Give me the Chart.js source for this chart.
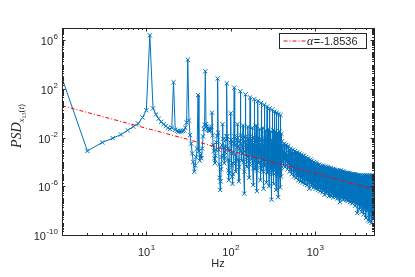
<!DOCTYPE html>
<html>
<head>
<meta charset="utf-8">
<script src="https://cdn.jsdelivr.net/npm/chart.js@4.4.1/dist/chart.umd.min.js"></script>
<style>
  html, body { margin: 0; padding: 0; background: #fff; }
  #wrap { position: relative; width: 415px; height: 277px; }
</style>
</head>
<body>
<div id="wrap"><canvas id="psd-chart" width="415" height="277"></canvas></div>
<script>
// PSD values are kept as log10 exponents
const lowHz = [
    1, 2, 3, 4, 5, 6, 7, 8, 9, 10,
    11, 12, 13, 14, 15, 16, 17, 18, 19, 20,
    21, 22, 23, 24, 25, 26, 27, 28, 29, 30,
    31, 32, 33, 34, 35, 36, 37, 38, 39, 40,
    41, 42, 43, 44, 45, 46, 47, 48, 49, 50,
    51, 52, 53, 54, 55, 56, 57, 58, 59, 60,
    61, 62, 63, 64, 65, 66, 67, 68, 69, 70,
    71, 72, 73, 74, 75, 76, 77, 78, 79, 80,
    81, 82, 83, 84, 85, 86, 87, 88, 89, 90,
    91, 92, 93, 94, 95, 96, 97, 98, 99, 100,
    101, 102, 103, 104, 105, 106, 107, 108, 109, 110
];
const lowLog = [
    2.9, -3.1, -2.4, -2.05, -1.75, -1.4, -1.1, -0.85, -0.35, 0.25,
    6.4, 0.4, -0.1, -0.45, -0.7, -0.9, -1.05, -1.2, -1.3, -1.2,
    2.55, -1.35, -1.45, -1.5, -1.5, -1.5, -1.45, -1.4, -1.2, -0.75,
    4.4, -0.6, -1.8, -2.5, -3.3, -4.0, -4.8, -4.3, -3.6, -2.9,
    1.5, -3.1, -3.9, -3.4, -3.7, -2.9, -1.9, -1.3, -0.95, 3.45,
    -0.9, -1.1, -1.25, -1.35, -1.4, -1.45, -1.4, -1.3, -1.1, 0.05,
    -1.8, -2.6, -3.1, -3.7, -4.1, -3.5, -3.0, -2.4, -1.9, 2.85,
    -1.6, -3.0, -4.2, -5.3, -6.3, -5.6, -4.6, -3.6, -2.6, -0.9,
    -2.1, -2.8, -3.5, -4.1, -3.7, -3.2, -2.7, -2.2, -1.9, 2.45,
    -1.9, -2.9, -3.8, -4.7, -5.5, -4.9, -3.9, -3.0, -2.4, 0.0,
    -2.2, -3.3, -4.3, -5.2, -5.8, -5.0, -4.1, -3.2, -2.5, 2.1
];

// harmonic comb, 110-400 Hz (one row per 10 Hz cell, peak last)
const combHz = [
    111, 112, 113, 115, 116, 118, 119, 120,
    121, 122, 123, 125, 126, 128, 129, 130,
    131, 132, 133, 135, 136, 138, 139, 140,
    141, 142, 143, 145, 146, 148, 149, 150,
    151, 152, 153, 155, 156, 158, 159, 160,
    161, 162, 163, 165, 166, 168, 169, 170,
    171, 172, 173, 175, 176, 178, 179, 180,
    181, 182, 183, 185, 186, 188, 189, 190,
    191, 192, 193, 195, 196, 198, 199, 200,
    201, 202, 203, 205, 206, 208, 209, 210,
    211, 212, 213, 215, 216, 218, 219, 220,
    221, 222, 223, 225, 226, 228, 229, 230,
    231, 232, 233, 235, 236, 238, 239, 240,
    241, 242, 243, 245, 246, 248, 249, 250,
    251, 252, 253, 255, 256, 258, 259, 260,
    261, 262, 263, 265, 266, 268, 269, 270,
    271, 272, 273, 275, 276, 278, 279, 280,
    281, 282, 283, 285, 286, 288, 289, 290,
    291, 292, 293, 295, 296, 298, 299, 300,
    301, 302, 303, 305, 306, 308, 309, 310,
    311, 312, 313, 315, 316, 318, 319, 320,
    321, 322, 323, 325, 326, 328, 329, 330,
    331, 332, 333, 335, 336, 338, 339, 340,
    341, 342, 343, 345, 346, 348, 349, 350,
    351, 352, 353, 355, 356, 358, 359, 360,
    361, 362, 363, 365, 366, 368, 369, 370,
    371, 372, 373, 375, 376, 378, 379, 380,
    381, 382, 383, 385, 386, 388, 389, 390,
    391, 392, 393, 395, 396, 398, 399, 400
];
const combLog = [
    -1.9, -2.6, -3.4, -4.8, -3.9, -2.8, -2.2, -0.9,
    -2.0, -2.7, -3.8, -5.6, -4.4, -2.9, -2.3, 1.8,
    -1.8, -2.5, -3.1, -3.9, -3.3, -2.7, -2.1, -1.0,
    -2.0, -2.8, -4.0, -6.6, -4.8, -3.1, -2.4, 1.55,
    -1.9, -2.5, -3.3, -4.4, -3.6, -2.8, -2.2, -1.1,
    -2.1, -2.9, -3.9, -5.3, -4.2, -3.0, -2.4, 1.3,
    -1.9, -2.6, -3.2, -3.8, -3.4, -2.8, -2.2, -1.2,
    -2.1, -2.9, -4.1, -5.9, -4.5, -3.1, -2.5, 1.15,
    -2.0, -2.7, -3.5, -4.6, -3.8, -2.9, -2.3, -1.0,
    -2.2, -3.0, -4.2, -6.4, -4.7, -3.2, -2.6, 1.0,
    -2.0, -2.8, -3.4, -4.1, -3.6, -3.0, -2.4, -1.3,
    -2.2, -3.1, -4.0, -5.5, -4.3, -3.3, -2.6, 0.85,
    -2.1, -2.9, -3.6, -4.7, -3.9, -3.1, -2.5, -1.2,
    -2.3, -3.2, -4.3, -6.2, -4.8, -3.4, -2.7, 0.7,
    -2.1, -3.0, -3.6, -4.3, -3.8, -3.2, -2.6, -1.4,
    -2.3, -3.3, -4.2, -5.7, -4.5, -3.5, -2.8, 0.55,
    -2.2, -3.1, -3.8, -4.9, -4.0, -3.3, -2.7, -1.3,
    -2.4, -3.4, -4.4, -6.0, -4.7, -3.6, -2.9, 0.4,
    -2.3, -3.2, -3.8, -4.5, -3.9, -3.4, -2.8, -1.5,
    -2.5, -3.5, -4.6, -7.1, -5.0, -3.7, -3.0, 0.3,
    -2.3, -3.3, -3.9, -4.8, -4.1, -3.5, -2.9, -1.4,
    -2.5, -3.6, -4.4, -5.8, -4.6, -3.8, -3.1, 0.15,
    -2.4, -3.4, -3.9, -4.4, -4.0, -3.6, -3.0, -1.5,
    -2.6, -3.7, -4.6, -6.3, -4.9, -3.9, -3.2, 0.05,
    -2.5, -3.5, -4.1, -5.0, -4.3, -3.7, -3.1, -1.6,
    -2.7, -3.8, -4.7, -6.9, -5.1, -4.0, -3.3, -0.05,
    -2.6, -3.6, -4.1, -4.6, -4.2, -3.8, -3.2, -1.5,
    -2.7, -3.9, -4.6, -6.1, -4.9, -4.1, -3.4, -0.15,
    -2.6, -3.7, -4.3, -5.2, -4.5, -3.9, -3.3, -1.7
];

// broadband part above 400 Hz
const bandHz = [
    405, 409, 413, 417, 421, 425, 430, 434, 438, 442, 447, 451, 456, 460, 465, 470, 475, 479, 484, 489,
    494, 499, 504, 509, 514, 519, 524, 529, 535, 540, 546, 551, 557, 562, 568, 573, 579, 585, 591, 597,
    603, 609, 615, 621, 627, 633, 640, 646, 653, 659, 666, 672, 679, 686, 693, 700, 707, 714, 721, 728,
    735, 742, 750, 757, 765, 773, 781, 788, 796, 804, 812, 820, 829, 837, 845, 853, 862, 871, 880, 888,
    897, 906, 915, 924, 934, 943, 953, 962, 972, 981, 991, 1001, 1011, 1021, 1031, 1041, 1052, 1062, 1073, 1084,
    1095, 1106, 1117, 1128, 1139, 1150, 1162, 1173, 1185, 1197, 1209, 1221, 1233, 1245, 1258, 1270, 1283, 1296, 1309, 1322,
    1335, 1348, 1362, 1375, 1389, 1403, 1417, 1431, 1446, 1460, 1475, 1489, 1504, 1519, 1534, 1549, 1565, 1580, 1596, 1612,
    1628, 1644, 1661, 1677, 1694, 1711, 1728, 1745, 1763, 1780, 1798, 1816, 1834, 1852, 1871, 1889, 1908, 1927, 1946, 1965,
    1985, 2005, 2025, 2045, 2066, 2086, 2107, 2128, 2149, 2170, 2192, 2214, 2236, 2258, 2281, 2304, 2327, 2350, 2373, 2397,
    2421, 2445, 2469, 2494, 2519, 2544, 2569, 2594, 2620, 2646, 2673, 2699, 2726, 2753, 2781, 2809, 2837, 2865, 2893, 2922,
    2951, 2980, 3010, 3040, 3071, 3101, 3132, 3163, 3195, 3227, 3259, 3291, 3324, 3357, 3390, 3424, 3458, 3492, 3527, 3562,
    3598, 3634, 3670, 3706, 3743, 3780, 3818, 3856, 3894, 3933, 3972, 4012, 4052, 4092, 4133, 4174, 4215, 4257, 4300, 4343,
    4386, 4429, 4473, 4518, 4563, 4608, 4654, 4700, 4747, 4794, 4842, 4890, 4939, 4970, 5000
];
const bandLog = [
    -2.3, -4.0, -2.6, -3.6, -3.1, -4.3, -2.5, -3.8, -2.7, -4.4, -3.3, -3.9, -2.6, -4.0, -2.8, -4.6, -3.4, -4.1, -2.7, -4.2,
    -3.0, -4.8, -3.5, -4.3, -2.9, -4.6, -3.2, -5.0, -3.7, -4.4, -3.0, -4.7, -3.3, -5.2, -3.8, -4.6, -3.1, -4.8, -3.4, -5.3,
    -3.3, -4.9, -3.2, -5.1, -3.6, -5.5, -3.4, -4.9, -3.3, -5.2, -3.7, -5.6, -3.5, -5.1, -3.4, -5.3, -3.8, -5.7, -3.5, -5.2,
    -3.5, -5.4, -3.7, -5.8, -3.9, -5.3, -3.6, -5.5, -3.8, -5.9, -4.0, -5.4, -3.7, -5.6, -3.9, -6.2, -4.1, -5.5, -3.8, -5.7,
    -4.0, -6.0, -3.9, -5.6, -4.1, -5.8, -4.2, -6.1, -4.0, -5.7, -4.1, -5.9, -4.3, -6.2, -4.1, -5.8, -4.2, -6.0, -4.3, -6.3,
    -4.3, -5.9, -4.2, -6.1, -4.4, -6.4, -4.3, -6.0, -4.4, -6.2, -4.5, -6.5, -4.3, -6.1, -4.4, -6.3, -4.5, -6.7, -4.4, -6.2,
    -4.4, -6.3, -4.5, -6.6, -4.5, -6.2, -4.4, -6.4, -4.6, -6.8, -4.5, -6.3, -4.6, -6.5, -4.5, -6.8, -4.7, -6.4, -4.6, -6.6,
    -4.6, -6.9, -4.7, -6.5, -4.6, -6.7, -4.7, -6.9, -4.8, -6.6, -4.7, -6.8, -4.7, -7.0, -4.8, -6.7, -4.7, -6.9, -4.8, -7.3,
    -4.8, -6.8, -4.7, -7.0, -4.9, -6.7, -4.8, -6.9, -4.9, -7.1, -4.8, -6.8, -4.9, -7.0, -4.9, -6.9, -5.0, -7.1, -4.9, -6.9,
    -5.0, -7.2, -4.9, -6.9, -5.0, -7.1, -4.9, -7.3, -5.0, -7.0, -5.0, -7.2, -5.1, -7.4, -5.0, -7.1, -5.1, -7.3, -5.0, -7.1,
    -5.1, -7.6, -5.0, -7.2, -5.1, -7.4, -5.1, -8.2, -5.1, -7.3, -5.2, -7.5, -5.1, -7.9, -5.2, -7.4, -5.1, -7.6, -5.2, -8.1,
    -5.2, -7.6, -5.1, -7.8, -5.2, -8.3, -5.2, -7.7, -5.1, -7.9, -5.2, -8.6, -5.2, -7.8, -5.1, -8.0, -5.2, -8.8, -5.2, -7.9,
    -5.2, -8.9, -5.1, -8.1, -5.2, -8.4, -5.2, -9.0, -5.1, -8.2, -5.2, -8.7, -5.2, -8.5, -5.3
];

// power-law fit line (end points) and its legend text
const fitHz = [1, 5000];
const fitLog = [0.62, -6.24];
const fitLabel = '=-1.8536';

const xLabelExp = [1, 2, 3];
const yLabelExp = [-10, -6, -2, 2, 6];

const ink = 'rgb(38,38,38)';
const psdBlue = 'rgb(0,114,189)';
const fitRed = 'rgb(255,0,0)';
const sans = '"Liberation Sans", Arial, Helvetica, sans-serif';
const serif = '"Liberation Serif", "Times New Roman", serif';

function toPoints(hzList, logList) {
    return hzList.map(function (f, i) {
        return { x: f, y: Math.pow(10, logList[i]) };
    });
}

const psdPoints = toPoints(lowHz.concat(combHz, bandHz), lowLog.concat(combLog, bandLog));
const fitPoints = toPoints(fitHz, fitLog);

// "10" with a raised exponent
function drawPower(ctx, exp, x, y, align) {
    ctx.font = '11px ' + sans;
    const wb = ctx.measureText('10').width;
    ctx.font = '8px ' + sans;
    const we = ctx.measureText(String(exp)).width;
    const x0 = align === 'right' ? x - wb - we - 0.5 : x - (wb + we) / 2;
    ctx.textAlign = 'left';
    ctx.textBaseline = 'alphabetic';
    ctx.font = '11px ' + sans;
    ctx.fillText('10', x0, y);
    ctx.font = '8px ' + sans;
    ctx.fillText(String(exp), x0 + wb + 0.5, y - 6);
}

const matlabFrame = {
    id: 'matlabFrame',
    afterDraw(chart) {
        const ctx = chart.ctx;
        const a = chart.chartArea;
        const xs = chart.scales.x;
        const ys = chart.scales.y;
        ctx.save();
        ctx.strokeStyle = ink;
        ctx.fillStyle = ink;
        ctx.lineWidth = 1;
        ctx.setLineDash([]);

        // box
        ctx.strokeRect(a.left + 0.5, a.top + 0.5, a.right - a.left, a.bottom - a.top);

        // x ticks, inward, bottom and top
        ctx.beginPath();
        for (let d = 0; d <= 3; d++) {
            for (let m = 1; m <= 9; m++) {
                const v = m * Math.pow(10, d);
                if (v > xs.max) break;
                const px = Math.round(xs.getPixelForValue(v)) + 0.5;
                const len = m === 1 ? 3.5 : 2;
                ctx.moveTo(px, a.bottom);
                ctx.lineTo(px, a.bottom - len);
                ctx.moveTo(px, a.top);
                ctx.lineTo(px, a.top + len);
            }
        }
        // y ticks, inward, left and right
        for (let d = -10; d <= 6; d++) {
            for (let m = 1; m <= 9; m++) {
                const v = m * Math.pow(10, d);
                if (v > ys.max) break;
                const py = Math.round(ys.getPixelForValue(v)) + 0.5;
                const len = (m === 1 && yLabelExp.indexOf(d) >= 0) ? 3.5 : 2;
                ctx.moveTo(a.left, py);
                ctx.lineTo(a.left + len, py);
                ctx.moveTo(a.right, py);
                ctx.lineTo(a.right - len, py);
            }
        }
        ctx.stroke();

        // tick labels
        xLabelExp.forEach(function (e) {
            drawPower(ctx, e, xs.getPixelForValue(Math.pow(10, e)), a.bottom + 21, 'center');
        });
        yLabelExp.forEach(function (e) {
            drawPower(ctx, e, a.left - 4, ys.getPixelForValue(Math.pow(10, e)) + 5, 'right');
        });

        // x title
        ctx.font = '11px ' + sans;
        ctx.textAlign = 'center';
        ctx.fillText('Hz', (a.left + a.right) / 2, 267);

        // y title: PSD_{x_{13}(t)}
        ctx.save();
        ctx.translate(21, 126);
        ctx.rotate(-Math.PI / 2);
        ctx.textAlign = 'left';
        const parts = [
            { t: 'PSD', f: 'italic 14px ' + serif, dy: 0 },
            { t: 'x', f: 'italic 9px ' + serif, dy: 3 },
            { t: '13', f: '6px ' + serif, dy: 5 },
            { t: '(', f: '9px ' + serif, dy: 3 },
            { t: 't', f: 'italic 9px ' + serif, dy: 3 },
            { t: ')', f: '9px ' + serif, dy: 3 }
        ];
        let total = 0;
        parts.forEach(function (p) { ctx.font = p.f; p.w = ctx.measureText(p.t).width; total += p.w; });
        let cx = -total / 2;
        parts.forEach(function (p) { ctx.font = p.f; ctx.fillText(p.t, cx, p.dy); cx += p.w; });
        ctx.restore();

        // legend
        const lx = 279.5, ly = 33.5, lw = 87, lh = 15;
        ctx.fillStyle = '#fff';
        ctx.fillRect(lx, ly, lw, lh);
        ctx.strokeStyle = ink;
        ctx.strokeRect(lx, ly, lw, lh);
        ctx.strokeStyle = fitRed;
        ctx.setLineDash([4, 2, 1, 2]);
        ctx.beginPath();
        ctx.moveTo(lx + 4, ly + 7.5);
        ctx.lineTo(lx + 26, ly + 7.5);
        ctx.stroke();
        ctx.setLineDash([]);
        ctx.fillStyle = ink;
        ctx.textAlign = 'left';
        ctx.font = 'italic 12px ' + serif;
        ctx.fillText('α', lx + 27.5, ly + 11.5);
        const aw = ctx.measureText('α').width;
        ctx.font = '11px ' + sans;
        ctx.fillText(fitLabel, lx + 28 + aw, ly + 11.5);

        ctx.restore();
    }
};

new Chart(document.getElementById('psd-chart'), {
    type: 'line',
    data: {
        datasets: [
            {
                label: 'PSD',
                data: psdPoints,
                borderColor: psdBlue,
                borderWidth: 1,
                pointStyle: 'crossRot',
                pointRadius: 3,
                pointBorderWidth: 1,
                pointBorderColor: psdBlue,
                pointBackgroundColor: 'rgba(0,0,0,0)',
                tension: 0,
                order: 2
            },
            {
                label: 'fit',
                data: fitPoints,
                borderColor: fitRed,
                borderWidth: 1,
                borderDash: [4, 2, 1, 2],
                pointRadius: 0,
                tension: 0,
                order: 1
            }
        ]
    },
    options: {
        responsive: false,
        animation: false,
        devicePixelRatio: 1,
        layout: { padding: { top: 28, right: 41, left: 0, bottom: 0 } },
        plugins: { legend: { display: false }, tooltip: { enabled: false } },
        scales: {
            x: {
                type: 'logarithmic',
                min: 1,
                max: 5000,
                grid: { display: false },
                border: { display: false },
                ticks: { display: false },
                afterFit: function (s) { s.height = 42; }
            },
            y: {
                type: 'logarithmic',
                min: 1e-10,
                max: 1e7,
                grid: { display: false },
                border: { display: false },
                ticks: { display: false },
                afterFit: function (s) { s.width = 62; }
            }
        }
    },
    plugins: [matlabFrame]
});
</script>
</body>
</html>
